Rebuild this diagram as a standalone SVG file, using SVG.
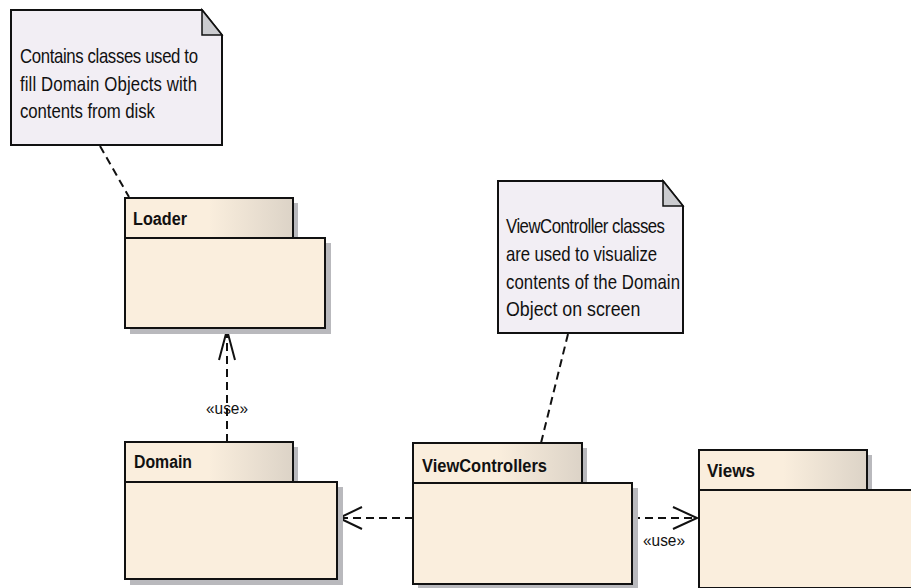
<svg xmlns="http://www.w3.org/2000/svg" width="911" height="588" viewBox="0 0 911 588">
<defs>
<linearGradient id="tabg" x1="0" y1="0" x2="1" y2="0">
<stop offset="0" stop-color="#faeedd"/>
<stop offset="0.5" stop-color="#faeedd"/>
<stop offset="1" stop-color="#dcd3c7"/>
</linearGradient>
<style>
.shadow{fill:#b9b9bd;stroke:none}
.body{fill:#faeedd;stroke:#111;stroke-width:2}
.tab{fill:url(#tabg);stroke:#111;stroke-width:2}
.pname{font-family:"Liberation Sans",Arial,sans-serif;font-weight:bold;font-size:18px;fill:#111}
.note{fill:#f2eef4;stroke:#111;stroke-width:2}
.fold{fill:#cbcbcf;stroke:#111;stroke-width:1.5}
.ntext{font-family:"Liberation Sans",Arial,sans-serif;font-size:20px;fill:#111}
.lbl{font-family:"Liberation Sans",Arial,sans-serif;font-size:17px;fill:#111}
.dash{fill:none;stroke:#111;stroke-width:2;stroke-dasharray:8 5}
.head{fill:none;stroke:#111;stroke-width:2}
</style>
</defs>
<rect width="911" height="588" fill="#ffffff"/>

<g id="connectors">
<line class="dash" x1="100" y1="146" x2="129" y2="197"/>
<line class="dash" x1="568" y1="334" x2="541" y2="443"/>
<line class="dash" x1="227" y1="442" x2="227" y2="331"/>
<polyline class="head" points="219,360 227,330 235,360"/>
<text class="lbl" x="227" y="414" text-anchor="middle" textLength="42" lengthAdjust="spacingAndGlyphs">«use»</text>
<line class="dash" x1="413" y1="518" x2="340" y2="518"/>
<polyline class="head" points="362,507 339,518 362,529"/>
<line class="dash" x1="632" y1="518" x2="696" y2="518"/>
<polyline class="head" points="673,507 697,518 673,529"/>
<text class="lbl" x="643" y="546" textLength="42" lengthAdjust="spacingAndGlyphs">«use»</text>
</g>

<g id="note1">
<path class="note" d="M11,10 H202 L222,35 V145 H11 Z"/>
<path class="fold" d="M202,10 V35 H222 Z"/>
<g transform="translate(20,0) scale(0.84,1)">
<text class="ntext" x="0" y="63" textLength="211.9" lengthAdjust="spacing">Contains classes used to</text>
<text class="ntext" x="0" y="91" textLength="210.7" lengthAdjust="spacing">fill Domain Objects with</text>
<text class="ntext" x="0" y="118" textLength="160.7" lengthAdjust="spacing">contents from disk</text>
</g>
</g>

<g id="note2">
<path class="note" d="M498,181 H663 L683,206 V333 H498 Z"/>
<path class="fold" d="M663,181 V206 H683 Z"/>
<g transform="translate(506,0) scale(0.84,1)">
<text class="ntext" x="0" y="233" textLength="189.3" lengthAdjust="spacing">ViewController classes</text>
<text class="ntext" x="0" y="261" textLength="179.8" lengthAdjust="spacing">are used to visualize</text>
<text class="ntext" x="0" y="289" textLength="207.1" lengthAdjust="spacing">contents of the Domain</text>
<text class="ntext" x="0" y="316" textLength="160" lengthAdjust="spacingAndGlyphs">Object on screen</text>
</g>
</g>

<g id="loader">
<rect class="shadow" x="130" y="203" width="168" height="40"/>
<rect class="shadow" x="130" y="243" width="201" height="91"/>
<rect class="body" x="125" y="238" width="200" height="90"/>
<rect class="tab" x="125" y="198" width="168" height="40"/>
<text class="pname" x="133" y="225" textLength="54" lengthAdjust="spacingAndGlyphs">Loader</text>
</g>

<g id="domain">
<rect class="shadow" x="130" y="447" width="168" height="40"/>
<rect class="shadow" x="130" y="487" width="213" height="98"/>
<rect class="body" x="125" y="482" width="212" height="97"/>
<rect class="tab" x="125" y="442" width="168" height="40"/>
<text class="pname" x="134" y="468" textLength="58" lengthAdjust="spacingAndGlyphs">Domain</text>
</g>

<g id="viewcontrollers">
<rect class="shadow" x="418" y="448" width="169" height="40"/>
<rect class="shadow" x="418" y="488" width="220" height="102"/>
<rect class="body" x="413" y="483" width="219" height="101"/>
<rect class="tab" x="413" y="443" width="169" height="40"/>
<text class="pname" x="422" y="472" textLength="125" lengthAdjust="spacingAndGlyphs">ViewControllers</text>
</g>

<g id="views">
<rect class="shadow" x="704" y="455" width="168" height="40"/>
<rect class="body" x="699" y="490" width="240" height="98"/>
<rect class="tab" x="699" y="450" width="168" height="40"/>
<text class="pname" x="707" y="477" textLength="48" lengthAdjust="spacingAndGlyphs">Views</text>
</g>
</svg>
